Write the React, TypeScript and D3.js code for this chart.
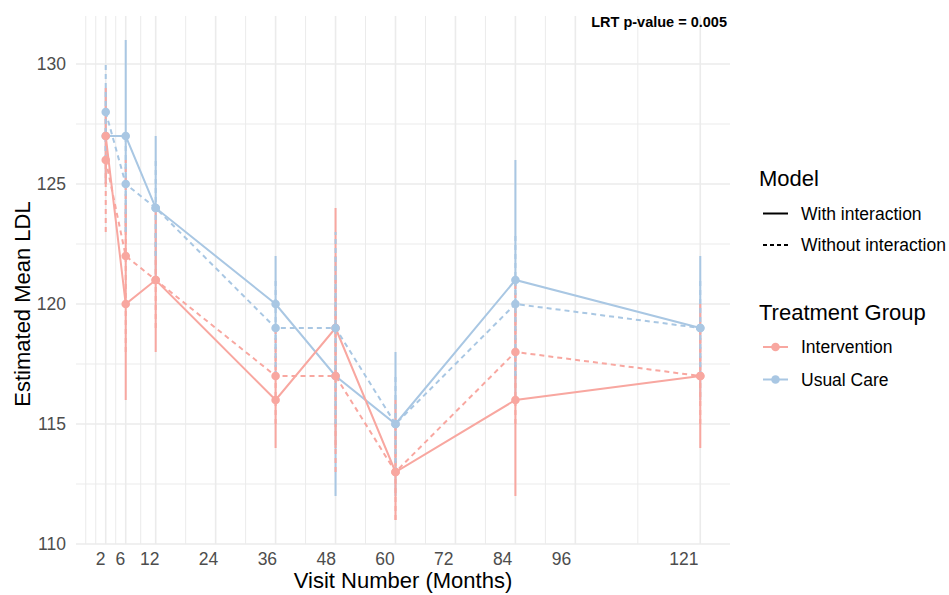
import React from "react";
import * as d3 from "d3";

// visit months where estimates were taken
const months = [2, 6, 12, 36, 48, 60, 84, 121];
const xBreaks = [2, 6, 12, 24, 36, 48, 60, 72, 84, 96, 121];
const yBreaks = [110, 115, 120, 125, 130];

// Intervention group
const intWith = [127, 120, 121, 116, 119, 113, 116, 117];
const intWithLo = [125, 116, 118, 114, 114, 111, 112, 114];
const intWithHi = [129, 124, 124, 118, 124, 116, 120, 120];
const intWithout = [126, 122, 121, 117, 117, 113, 118, 117];
const intWithoutLo = [123, 118, 119, 115, 113, 111, 115, 115];
const intWithoutHi = [128, 126, 123, 119, 121, 115, 121, 119];

// Usual care group
const ucWith = [127, 127, 124, 120, 117, 115, 121, 119];
const ucWithLo = [125, 123, 121, 118, 112, 112, 116, 116];
const ucWithHi = [129, 131, 127, 122, 122, 118, 126, 122];
const ucWithout = [128, 125, 124, 119, 119, 115, 120, 119];
const ucWithoutLo = [126, 123, 122, 117, 115, 113, 117, 117];
const ucWithoutHi = [130, 127, 126, 121, 123, 117, 123, 121];

const groups = ["Intervention", "Usual Care"];
const models = ["With interaction", "Without interaction"];

const PINK = "#F8A7A0";
const BLUE = "#A9C7E3";
const FONT = "'Liberation Sans', Arial, Helvetica, sans-serif";
const DASH = "5,4";

// drawing order follows the source (later ones sit on top)
const series = [
  { group: "Usual Care", model: "With interaction", est: ucWith, lo: ucWithLo, hi: ucWithHi },
  { group: "Intervention", model: "With interaction", est: intWith, lo: intWithLo, hi: intWithHi },
  { group: "Intervention", model: "Without interaction", est: intWithout, lo: intWithoutLo, hi: intWithoutHi },
  { group: "Usual Care", model: "Without interaction", est: ucWithout, lo: ucWithoutLo, hi: ucWithoutHi },
];

// ggplot-style minor breaks (midpoints, extended one step past the ends)
function minorBreaks(b: number[], lim: number[]) {
  let ext = [...b];
  const bd = b[1] - b[0];
  if (lim[0] < b[0]) ext = [b[0] - bd, ...ext];
  if (lim[1] > b[b.length - 1]) ext = [...ext, b[b.length - 1] + (b[b.length - 1] - b[b.length - 2])];
  const out: number[] = [];
  for (let i = 0; i < ext.length - 1; i++) out.push(ext[i], (ext[i] + ext[i + 1]) / 2);
  out.push(ext[ext.length - 1]);
  return out.filter((v) => v >= lim[0] && v <= lim[1] && !b.includes(v));
}

export default function App() {
  const width = 949;
  const height = 595;

  const x = d3.scaleLinear().domain([-3.95, 126.95]).range([76, 730]);
  const y = d3.scaleLinear().domain([110, 132]).range([544, 16]);
  const color = d3.scaleOrdinal<string, string>().domain(groups).range([PINK, BLUE]);

  // tick labels in the source sit a little left of their grid lines
  const labelX = (v: number) => x(v) * 0.981 - 3;

  const [x0, x1] = x.range();
  const [yb, yt] = y.range();
  const xMinor = minorBreaks(xBreaks, x.domain());
  const yMinor = minorBreaks(yBreaks, y.domain());

  const line = d3
    .line<number>()
    .x((_, i) => x(months[i]))
    .y((d) => y(d));

  const grid = "#EBEBEB";

  return (
    <div style={{ position: "absolute", left: 0, top: 0 }}>
      <svg width={width} height={height} style={{ display: "block", background: "#fff", fontFamily: FONT }}>
        {/* grid */}
        <g>
          {yMinor.map((v) => (
            <line key={"ym" + v} x1={x0} x2={x1} y1={y(v)} y2={y(v)} stroke={grid} strokeWidth={1} />
          ))}
          {xMinor.map((v) => (
            <line key={"xm" + v} x1={x(v)} x2={x(v)} y1={yb} y2={yt} stroke={grid} strokeWidth={1} />
          ))}
          {yBreaks.map((v) => (
            <line key={"yM" + v} x1={x0} x2={x1} y1={y(v)} y2={y(v)} stroke={grid} strokeWidth={1.6} />
          ))}
          {xBreaks.map((v) => (
            <line key={"xM" + v} x1={x(v)} x2={x(v)} y1={yb} y2={yt} stroke={grid} strokeWidth={1.6} />
          ))}
        </g>

        {/* error bars */}
        {series.map((s, si) => (
          <g key={"eb" + si}>
            {months.map((m, i) => (
              <line
                key={m}
                x1={x(m)}
                x2={x(m)}
                y1={y(s.lo[i])}
                y2={y(s.hi[i])}
                stroke={color(s.group)}
                strokeWidth={2}
                strokeDasharray={s.model === models[1] ? DASH : undefined}
              />
            ))}
          </g>
        ))}

        {/* lines */}
        {series.map((s, si) => (
          <path
            key={"ln" + si}
            d={line(s.est) || ""}
            fill="none"
            stroke={color(s.group)}
            strokeWidth={2}
            strokeDasharray={s.model === models[1] ? DASH : undefined}
          />
        ))}

        {/* points */}
        {series.map((s, si) => (
          <g key={"pt" + si}>
            {months.map((m, i) => (
              <circle key={m} cx={x(m)} cy={y(s.est[i])} r={4.3} fill={color(s.group)} />
            ))}
          </g>
        ))}

        {/* axes text */}
        {yBreaks.map((v) => (
          <text key={"yl" + v} x={66} y={y(v)} dy="0.36em" textAnchor="end" fontSize={17.5} fill="#4D4D4D">
            {v}
          </text>
        ))}
        {xBreaks.map((v) => (
          <text key={"xl" + v} x={labelX(v)} y={559} dy="0.36em" textAnchor="middle" fontSize={17.5} fill="#4D4D4D">
            {v}
          </text>
        ))}
        <text x={(x0 + x1) / 2} y={588} textAnchor="middle" fontSize={22} fill="#000">
          Visit Number (Months)
        </text>
        <text transform={`translate(30,304) rotate(-90)`} textAnchor="middle" fontSize={22} fill="#000">
          Estimated Mean LDL
        </text>

        <text x={727} y={27} textAnchor="end" fontSize={14.5} fontWeight="bold" fill="#000">
          LRT p-value = 0.005
        </text>

        {/* legend: model */}
        <g>
          <text x={759} y={186} fontSize={22} fill="#000">
            Model
          </text>
          {models.map((m, i) => {
            const cy = 213.5 + i * 31.5;
            return (
              <g key={m}>
                <line
                  x1={763}
                  x2={788}
                  y1={cy}
                  y2={cy}
                  stroke="#000"
                  strokeWidth={2}
                  strokeDasharray={i === 1 ? "4,3" : undefined}
                />
                <text x={801} y={cy} dy="0.36em" fontSize={17.5} fill="#000">
                  {m}
                </text>
              </g>
            );
          })}
        </g>

        {/* legend: treatment group */}
        <g>
          <text x={759} y={320} fontSize={22} fill="#000">
            Treatment Group
          </text>
          {groups.map((g, i) => {
            const cy = 347 + i * 32.5;
            return (
              <g key={g}>
                <line x1={763} x2={788} y1={cy} y2={cy} stroke={color(g)} strokeWidth={2} />
                <circle cx={775.5} cy={cy} r={4.3} fill={color(g)} />
                <text x={801} y={cy} dy="0.36em" fontSize={17.5} fill="#000">
                  {g}
                </text>
              </g>
            );
          })}
        </g>
      </svg>
    </div>
  );
}
